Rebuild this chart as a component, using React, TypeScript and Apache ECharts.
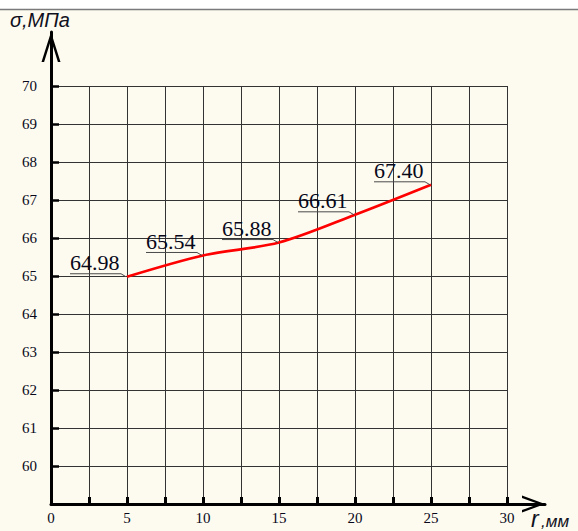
import React, { useEffect, useRef } from "react";
import * as echarts from "echarts";

const rValues = [5, 10, 15, 20, 25];
const sigmaValues = [64.98, 65.54, 65.88, 66.61, 67.4];
const sigmaLabels = ["64.98", "65.54", "65.88", "66.61", "67.40"];
const xTickLabelsEvery = 5;
const yAxisTitle = "σ,МПа";
const xAxisTitleMain = "r";
const xAxisTitleUnit = ",мм";

const yArrow = "path://M9.5,0 L19,30 L16.4,30 L9.5,7.9 L2.6,30 L0,30 Z";
const xArrow = "path://M8.5,0 L17,23 L14.6,23 L8.5,6.5 L2.4,23 L0,23 Z";

export default function App() {
  const ref = useRef<HTMLDivElement>(null);
  useEffect(() => {
    if (!ref.current) return;
    const chart = echarts.init(ref.current, undefined, { renderer: "svg" });
    const points = rValues.map((r, i) => [r, sigmaValues[i]]);
    const serif = '"Liberation Serif", "Times New Roman", serif';
    const sans = '"Liberation Sans", Arial, sans-serif';
    const textColor = "#08081a";
    chart.setOption({
      animation: false,
      backgroundColor: "#FDFBEF",
      grid: [
        { left: 51, top: 86, width: 456, height: 418 },
        { left: 51, top: 32, width: 494, height: 472 },
      ],
      xAxis: [
        {
          type: "value",
          gridIndex: 0,
          min: 0,
          max: 30,
          interval: 2.5,
          axisLine: { show: false },
          axisTick: { show: true, inside: true, length: 7, lineStyle: { color: "#000", width: 3 } },
          axisLabel: {
            margin: 6,
            fontFamily: serif,
            fontSize: 15,
            color: textColor,
            formatter: (v: number) => (v % xTickLabelsEvery === 0 ? String(v) : ""),
          },
          splitLine: { show: true, lineStyle: { color: "#333", width: 1 } },
        },
        {
          type: "value",
          gridIndex: 1,
          min: 0,
          max: 1,
          axisLine: {
            show: true,
            onZero: false,
            symbol: ["none", xArrow],
            symbolSize: [17, 23],
            symbolOffset: [0, -11.5],
            lineStyle: { color: "#000", width: 3 },
          },
          axisTick: { show: false },
          axisLabel: { show: false },
          splitLine: { show: false },
        },
      ],
      yAxis: [
        {
          type: "value",
          gridIndex: 0,
          min: 59,
          max: 70,
          interval: 1,
          axisLine: { show: false },
          axisTick: { show: true, inside: true, length: 8, lineStyle: { color: "#000", width: 2.5 } },
          axisLabel: {
            showMinLabel: false,
            margin: 14,
            fontFamily: serif,
            fontSize: 15,
            color: textColor,
          },
          splitLine: { show: true, lineStyle: { color: "#333", width: 1 } },
        },
        {
          type: "value",
          gridIndex: 1,
          min: 0,
          max: 1,
          axisLine: {
            show: true,
            onZero: false,
            symbol: ["none", yArrow],
            symbolSize: [19, 30],
            symbolOffset: [0, -15],
            lineStyle: { color: "#000", width: 3 },
          },
          axisTick: { show: false },
          axisLabel: { show: false },
          splitLine: { show: false },
        },
      ],
      graphic: [
        { type: "rect", shape: { x: 0, y: 0, width: 578, height: 9 }, style: { fill: "#ffffff" }, z: 100 },
        { type: "line", shape: { x1: 0, y1: 9.5, x2: 578, y2: 9.5 }, style: { stroke: "#7a7a7a", lineWidth: 1.5 }, z: 100 },
        {
          type: "text",
          x: 10,
          y: 20,
          style: { text: yAxisTitle, font: `italic 20px ${sans}`, fill: "#101020", verticalAlign: "middle" },
          z: 100,
        },
        {
          type: "text",
          x: 531,
          y: 530,
          style: { text: xAxisTitleMain, font: `italic 23px ${sans}`, fill: "#101020", verticalAlign: "bottom" },
          z: 100,
        },
        {
          type: "text",
          x: 541,
          y: 530,
          style: { text: xAxisTitleUnit, font: `italic 17px ${sans}`, fill: "#101020", verticalAlign: "bottom" },
          z: 100,
        },
      ],
      series: [
        {
          type: "line",
          xAxisIndex: 0,
          yAxisIndex: 0,
          data: points,
          smooth: 0.3,
          symbol: "none",
          lineStyle: { color: "#ff0000", width: 2.6 },
          z: 5,
        },
        {
          type: "custom",
          xAxisIndex: 0,
          yAxisIndex: 0,
          data: points,
          z: 6,
          renderItem: (params: any, api: any) => {
            const p = api.coord([api.value(0), api.value(1)]);
            const left = p[0] - 57;
            const uy = p[1] - 3;
            return {
              type: "group",
              children: [
                {
                  type: "polyline",
                  shape: { points: [[left, uy], [p[0] - 6, uy], [p[0] - 1, p[1]]] },
                  style: { stroke: "#4a4a4a", lineWidth: 1, fill: null },
                },
                {
                  type: "text",
                  style: {
                    text: sigmaLabels[params.dataIndex],
                    x: left,
                    y: uy - 11,
                    font: `22px ${serif}`,
                    fill: textColor,
                    align: "left",
                    verticalAlign: "middle",
                  },
                },
              ],
            };
          },
        },
      ],
    });
    return () => chart.dispose();
  }, []);
  return <div ref={ref} style={{ position: "fixed", left: 0, top: 0, width: 578, height: 531 }} />;
}
